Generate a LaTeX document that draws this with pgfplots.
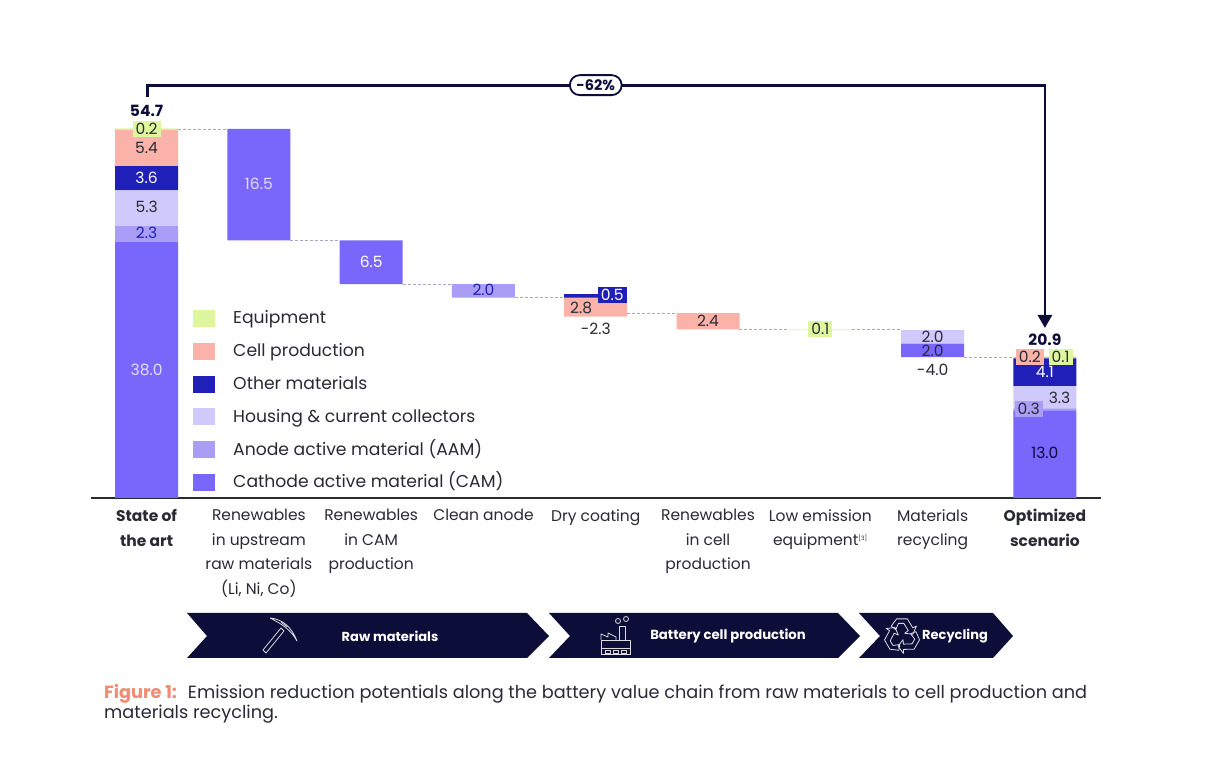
\documentclass[border=0pt]{standalone}
\usepackage{fontspec}
\setmainfont{Poppins}
\usepackage{pgfplots}
\usepackage{pgfplotstable}
\pgfplotsset{compat=1.18}
\usetikzlibrary{shapes.misc,arrows.meta}

\definecolor{ccam}{HTML}{7966FB}
\definecolor{caam}{HTML}{A99DF6}
\definecolor{chousing}{HTML}{CFCAFB}
\definecolor{cother}{HTML}{2020B8}
\definecolor{ccell}{HTML}{FBB2A8}
\definecolor{cequip}{HTML}{DEF79E}
\definecolor{navy}{HTML}{0D0D3A}
\definecolor{txt}{HTML}{2A2A35}
\definecolor{cdash}{HTML}{A9A6C8}
\definecolor{cfig}{HTML}{F08C72}
\definecolor{palelabel}{HTML}{E2DEFF}

% pos offset cam aam housing other cell othertop equip
\pgfplotstableread{
pos offset cam aam housing other cell othertop equip
0 0 38.0 2.3 5.3 3.6 5.4 0 0.2
1 38.2 16.5 0 0 0 0 0 0
2 31.7 6.5 0 0 0 0 0 0
3 29.7 0 2.0 0 0 0 0 0
4 26.9 0 0 0 0 2.8 0.5 0
5 25.0 0 0 0 0 2.4 0 0
6 24.9 0 0 0 0 0 0 0.1
7 20.9 2.0 0 2.0 0 0 0 0
8 0 13.0 0.3 3.3 4.1 0.2 0 0.1
}\waterfall

\newcommand{\lab}[4][]{\node[txt,font=\fontsize{15.5}{18}\selectfont,inner sep=1.5pt,#1] at (axis cs:#2,#3) {#4};}

\pgfplotsset{swatch/.style={legend image code/.code={\fill[##1] (0pt,-8pt) rectangle (22pt,9pt);}}}
\tikzset{tag/.style={inner xsep=3pt,inner ysep=2.5pt,text height=10.5pt,text depth=0pt}}

\begin{document}
\begin{tikzpicture}[x=1pt,y=1pt]
\path[use as bounding box,fill=white] (0,0) rectangle (1213,762);

\begin{axis}[
	at={(91pt,264pt)},anchor=south west,
	scale only axis,width=1010pt,height=418.25pt,
	xmin=-0.495,xmax=8.5,ymin=0,ymax=62,
	ybar stacked,bar width=63pt,
	axis x line*=bottom,axis y line=none,
	x axis line style={draw=txt,line width=1.4pt},
	xtick={0,...,8},major tick length=0pt,
	xticklabels={{\textbf{State of}\\\textbf{the art}},
		{Renewables\\in upstream\\raw materials\\(Li, Ni, Co)},
		{Renewables\\in CAM\\production},
		{Clean anode},{Dry coating},
		{Renewables\\in cell\\production},
		{Low emission\\equipment\textsuperscript{\fontsize{6}{6}\selectfont [3]}},
		{Materials\\recycling},
		{\textbf{Optimized}\\\textbf{scenario}}},
	x tick label style={align=center,text=txt,anchor=north,yshift=-8pt,
		font=\fontsize{15.5}{24.5}\selectfont},
	reverse legend,legend cell align=left,
	legend style={at={(axis cs:0.387,28.5)},anchor=north west,draw=none,fill=none,
		font=\fontsize{17.2}{20}\selectfont,text=txt,row sep=10.8pt,
		nodes={text height=14pt,text depth=4pt},
		/tikz/every odd column/.append style={column sep=16pt}},
]
\addplot[fill=none,draw=none,forget plot] table[x=pos,y=offset] {\waterfall};
\addplot[fill=ccam,draw=none,swatch] table[x=pos,y=cam] {\waterfall};
\addlegendentry{Cathode active material (CAM)}
\addplot[fill=caam,draw=none,swatch] table[x=pos,y=aam] {\waterfall};
\addlegendentry{Anode active material (AAM)}
\addplot[fill=chousing,draw=none,swatch] table[x=pos,y=housing] {\waterfall};
\addlegendentry{Housing \& current collectors}
\addplot[fill=cother,draw=none,swatch] table[x=pos,y=other] {\waterfall};
\addlegendentry{Other materials}
\addplot[fill=ccell,draw=none,swatch] table[x=pos,y=cell] {\waterfall};
\addlegendentry{Cell production}
\addplot[fill=cother,draw=none,forget plot] table[x=pos,y=othertop] {\waterfall};
\addplot[fill=cequip,draw=none,swatch] table[x=pos,y=equip] {\waterfall};
\addlegendentry{Equipment}
\end{axis}

\begin{axis}[
	at={(91pt,264pt)},anchor=south west,
	scale only axis,width=1010pt,height=418.25pt,
	xmin=-0.495,xmax=8.5,ymin=0,ymax=62,
	hide axis,clip=false,unbounded coords=jump,
]
% connectors between the steps
\addplot[cdash,densely dashed,line width=0.8pt] coordinates {
(0.28,54.7) (0.72,54.7) (1,nan)
(1.28,38.2) (1.72,38.2) (2,nan)
(2.28,31.7) (2.72,31.7) (3,nan)
(3.28,29.7) (3.72,29.7) (4,nan)
(4.28,27.4) (4.72,27.4) (5,nan)
(5.28,25.0) (5.72,25.0) (6,nan)
(6.28,25.0) (6.72,25.0) (7,nan)
(7.28,20.9) (7.72,20.9)
};
% bracket for the total reduction
\addplot[navy,line width=2.8pt,-{Triangle[length=13pt,width=14pt]}] coordinates {
(0.01,59.4) (0.01,61.2) (8,61.2) (8,25.2)
};
\node[draw=navy,line width=1.8pt,fill=white,rounded rectangle,inner xsep=5pt,inner ysep=4.5pt,
	text=navy,font=\fontsize{14.5}{16}\selectfont\bfseries] at (axis cs:4,61.2) {-62\%};

\lab[font=\fontsize{15.5}{18}\selectfont\bfseries,text=navy]{0}{57.37}{54.7}
\lab[fill=cequip,tag]{0}{54.7}{0.2}
\lab{0}{51.88}{5.4}
\lab[text=white]{0}{47.44}{3.6}
\lab{0}{43.14}{5.3}
\lab[text=cother]{0}{39.28}{2.3}
\lab[text=palelabel]{0}{18.97}{38.0}
\lab[text=palelabel]{1}{46.55}{16.5}
\lab[text=white]{2}{34.98}{6.5}
\lab[text=cother]{3}{30.83}{2.0}
\lab[fill=cother,text=white,tag]{4.146}{30.09}{0.5}
\lab{3.87}{28.16}{2.8}
\lab{4}{25.05}{-2.3}
\lab{5}{26.24}{2.4}
\lab[fill=cequip,tag]{6}{25.05}{0.1}
\lab{7}{23.87}{2.0}
\lab{7}{21.79}{2.0}
\lab{7}{18.97}{-4.0}
\lab[font=\fontsize{15.5}{18}\selectfont\bfseries,text=navy]{8}{23.42}{20.9}
\lab[fill=ccell,tag]{7.865}{20.9}{0.2}
\lab[fill=cequip,tag]{8.14}{20.9}{0.1}
\lab[text=white]{8}{18.68}{4.1}
\lab{8.13}{14.82}{3.3}
\lab[fill=caam,tag]{7.856}{13.19}{0.3}
\lab[text=navy]{8}{6.67}{13.0}
\end{axis}

% process chevrons and caption, in pixel coordinates of the reference
\begin{scope}[x=1pt,y=-1pt,shift={(0pt,762pt)}]
\fill[navy] (187,613)--(527,613)--(549,636)--(527,658)--(187,658)--(207,636)--cycle;
\fill[navy] (549,613)--(838,613)--(860,636)--(838,658)--(549,658)--(570,636)--cycle;
\fill[navy] (859,613)--(993,613)--(1013,636)--(993,658)--(859,658)--(880,636)--cycle;
\node[white,font=\fontsize{13}{15}\selectfont\bfseries] at (390,636) {Raw materials};
\node[white,font=\fontsize{13.2}{15}\selectfont\bfseries] at (728,636) {Battery cell production};
\node[white,font=\fontsize{13}{15}\selectfont\bfseries] at (955,636) {Recycling};
\begin{scope}[draw=white!85!navy,line width=0.8pt,line join=round]
% pickaxe
\draw (263,650)--(281,628)--(284,631)--(266,653)--cycle;
\draw (270,618) .. controls (283,619) and (292,628) .. (297,641) .. controls (291,630) and (282,624) .. (270,618);
\draw (281,622)--(287,627);
% factory
\draw (601,640) rectangle (630,654);
\draw (601,648)--(630,648);
\foreach \q in {605,613,621}{\draw (\q,650) rectangle ++(5,3);}
\draw (601,640)--(601,634)--(608,637)--(608,633)--(616,637)--(616,640);
\draw (619,640)--(619,626)--(625,626)--(625,640);
\draw (618,621) circle (2.5);
\draw (626,619) circle (2.5);
% recycling
\foreach \a in {0,120,240}{
	\begin{scope}[xshift=-2pt,rotate around={\a:(904,636)},scale around={0.9:(904,636)}]
	\draw (892,625)--(898,617)--(910,617)--(916,627)--(920,625)--(916,634)--(907,633)--(911,630)--(906,622)--(900,622)--(897,629)--cycle;
	\end{scope}
}
\end{scope}
% caption
\node[anchor=base west,inner sep=0pt,font=\fontsize{17.7}{21}\selectfont,text=txt] at (104,699)
	{\textcolor{cfig}{\textbf{Figure 1:}} \ Emission reduction potentials along the battery value chain from raw materials to cell production and};
\node[anchor=base west,inner sep=0pt,font=\fontsize{17.7}{21}\selectfont,text=txt] at (104,719)
	{materials recycling.};
\end{scope}
\end{tikzpicture}
\end{document}
